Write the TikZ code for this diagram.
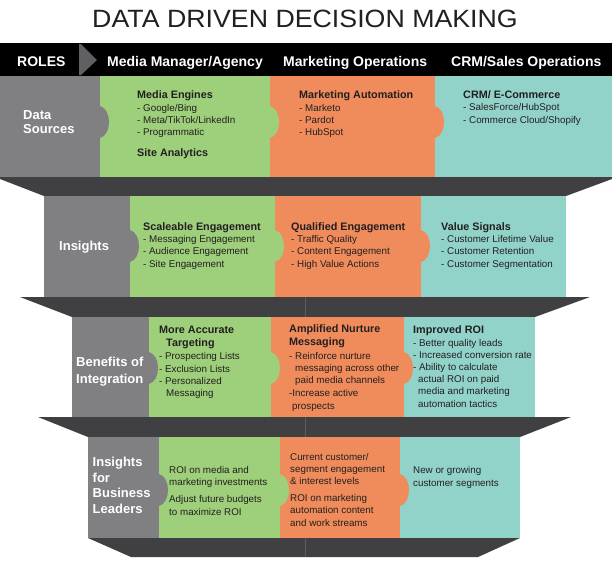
\documentclass[tikz,border=0pt]{standalone}
\usepackage{fontspec}
\setmainfont{Liberation Sans}
\definecolor{labelgray}{RGB}{128,128,131}
\definecolor{chevgray}{RGB}{96,96,98}
\definecolor{cellgreen}{RGB}{158,207,123}
\definecolor{cellorange}{RGB}{240,140,92}
\definecolor{cellteal}{RGB}{146,211,201}
\definecolor{foldgray}{RGB}{64,64,66}
\definecolor{foldline}{RGB}{92,92,94}
\definecolor{inkblack}{RGB}{35,31,32}
\newcommand{\cellhead}[1]{{\bfseries\fontsize{10.8}{12}\selectfont #1}}
\newcommand{\puzzletab}[3]{\fill[#3] (#1,#2-16) .. controls (#1+12,#2-13) and (#1+12,#2+13) .. (#1,#2+16) -- cycle;}
\begin{document}
\begin{tikzpicture}[x=1pt,y=-1pt,
    rowlabel/.style={anchor=base west,inner sep=0pt,align=left,text=white,font=\bfseries\fontsize{13}{15.5}\selectfont},
    rolehead/.style={anchor=base west,inner sep=0pt,text=white,font=\bfseries\fontsize{14}{16}\selectfont},
    cellbody/.style={anchor=base west,inner sep=0pt,align=left,text=inkblack,font=\fontsize{9.8}{12.2}\selectfont}]
    \useasboundingbox[fill=white] (0,0) rectangle (612,563);
    %% title
    \node[inner sep=0pt,text=inkblack,font=\fontsize{25}{30}\selectfont] (title) at (305,19) {\scalebox{1.07}[1]{DATA DRIVEN DECISION MAKING}};
    %% roles bar
    \fill[black] (0,43) rectangle (612,76);
    \fill[chevgray] (79,44) -- (81,44) -- (97,60) -- (81,75) -- (79,75) -- cycle;
    \node[rolehead] (roles) at (17,66) {ROLES};
    \node[rolehead] (hdmedia) at (107,66) {Media Manager/Agency};
    \node[rolehead] (hdmarketing) at (283,66) {Marketing Operations};
    \node[rolehead] (hdcrm) at (451,66) {CRM/Sales Operations};
    %% folds between the rows (text nodes sit on their last line)
    \fill[foldgray] (0,177) -- (612,177) -- (612,179) -- (566,196) -- (44,196) -- (0,179) -- cycle;
    \fill[foldgray] (20,297) -- (590,297) -- (535,317) -- (72,317) -- cycle;
    \fill[foldgray] (38,417) -- (571,417) -- (520,437) -- (88,437) -- cycle;
    \fill[foldgray] (88,538) -- (520,538) -- (478,557) -- (131,557) -- cycle;
    \draw[foldline,thin] (305,297) -- (305,317);
    \draw[foldline,thin] (305,417) -- (305,437);
    \draw[foldline,thin] (305,538) -- (305,557);
    %% row 1
    \fill[labelgray] (0,76) rectangle (100,177);
    \fill[cellgreen] (100,76) rectangle (270,177);
    \fill[cellorange] (270,76) rectangle (435,177);
    \fill[cellteal] (435,76) rectangle (612,177);
    \puzzletab{100}{122}{labelgray}
    \puzzletab{270}{122}{cellgreen}
    \puzzletab{435}{122}{cellorange}
    \node[rowlabel] (srclabel) at (23,133.5) {Data\\[-1.5pt] Sources};
    \node[cellbody] (srcmedia) at (137,156) {\cellhead{Media Engines}\\[0.3pt] - Google/Bing\\ - Meta/TikTok/LinkedIn\\ - Programmatic\\[8.3pt] \cellhead{Site Analytics}};
    \node[cellbody] (srcmarketing) at (299,135.5) {\cellhead{Marketing Automation}\\[0.3pt] - Marketo\\ - Pardot\\ - HubSpot};
    \node[cellbody] (srccrm) at (463,123) {\cellhead{CRM/ E-Commerce}\\[0.3pt] - SalesForce/HubSpot\\ - Commerce Cloud/Shopify};
    %% row 2
    \fill[labelgray] (44,196) rectangle (130,297);
    \fill[cellgreen] (130,196) rectangle (275,297);
    \fill[cellorange] (275,196) rectangle (421,297);
    \fill[cellteal] (421,196) rectangle (566,297);
    \puzzletab{130}{246}{labelgray}
    \puzzletab{275}{246}{cellgreen}
    \puzzletab{421}{246}{cellorange}
    \node[rowlabel] (inslabel) at (59,250.5) {Insights};
    \node[cellbody] (insmedia) at (143,267) {\cellhead{Scaleable Engagement}\\ - Messaging Engagement\\ - Audience Engagement\\ - Site Engagement};
    \node[cellbody] (insmarketing) at (291,267) {\cellhead{Qualified Engagement}\\ - Traffic Quality\\ - Content Engagement\\ - High Value Actions};
    \node[cellbody] (inscrm) at (441,267) {\cellhead{Value Signals}\\ - Customer Lifetime Value\\ - Customer Retention\\ - Customer Segmentation};
    %% row 3
    \fill[labelgray] (72,317) rectangle (149,417);
    \fill[cellgreen] (149,317) rectangle (271,417);
    \fill[cellorange] (271,317) rectangle (404,417);
    \fill[cellteal] (404,317) rectangle (535,417);
    \puzzletab{149}{368}{labelgray}
    \puzzletab{271}{368}{cellgreen}
    \puzzletab{404}{368}{cellorange}
    \node[rowlabel] (benlabel) at (76,383.5) {Benefits of\\[1.5pt] Integration};
    \node[cellbody] (benmedia) at (159,396.5) {\cellhead{More Accurate}\\[0.8pt] \hspace*{7pt}\cellhead{Targeting}\\[1.3pt] - Prospecting Lists\\ - Exclusion Lists\\ - Personalized\\ \hspace*{7pt}Messaging};
    \node[cellbody] (benmarketing) at (289,409) {\cellhead{Amplified Nurture}\\[0.8pt] \cellhead{Messaging}\\[1.3pt] - Reinforce nurture\\ \hspace*{6pt}messaging across other\\ \hspace*{6pt}paid media channels\\ -Increase active\\[0.8pt] \hspace*{3pt}prospects};
    \node[cellbody] (bencrm) at (413,407) {\cellhead{Improved ROI}\\ - Better quality leads\\ - Increased conversion rate\\ - Ability to calculate\\ \hspace*{5pt}actual ROI on paid\\ \hspace*{5pt}media and marketing\\ \hspace*{5pt}automation tactics};
    %% row 4
    \fill[labelgray] (88,437) rectangle (159,538);
    \fill[cellgreen] (159,437) rectangle (280,538);
    \fill[cellorange] (280,437) rectangle (400,538);
    \fill[cellteal] (400,437) rectangle (520,538);
    \puzzletab{159}{490}{labelgray}
    \puzzletab{280}{490}{cellgreen}
    \puzzletab{400}{490}{cellorange}
    \node[rowlabel] (leadlabel) at (92.5,513.5) {Insights\\[0.2pt] for\\[0.2pt] Business\\[0.2pt] Leaders};
    \node[cellbody] (leadmedia) at (169,515) {ROI on media and\\ marketing investments\\[4.8pt] Adjust future budgets\\ to maximize ROI};
    \node[cellbody] (leadmarketing) at (290,526) {Current customer/\\ segment engagement\\ \& interest levels\\[4.8pt] ROI on marketing\\ automation content\\ and work streams};
    \node[cellbody] (leadcrm) at (413,486) {New or growing\\ customer segments};
\end{tikzpicture}
\end{document}
